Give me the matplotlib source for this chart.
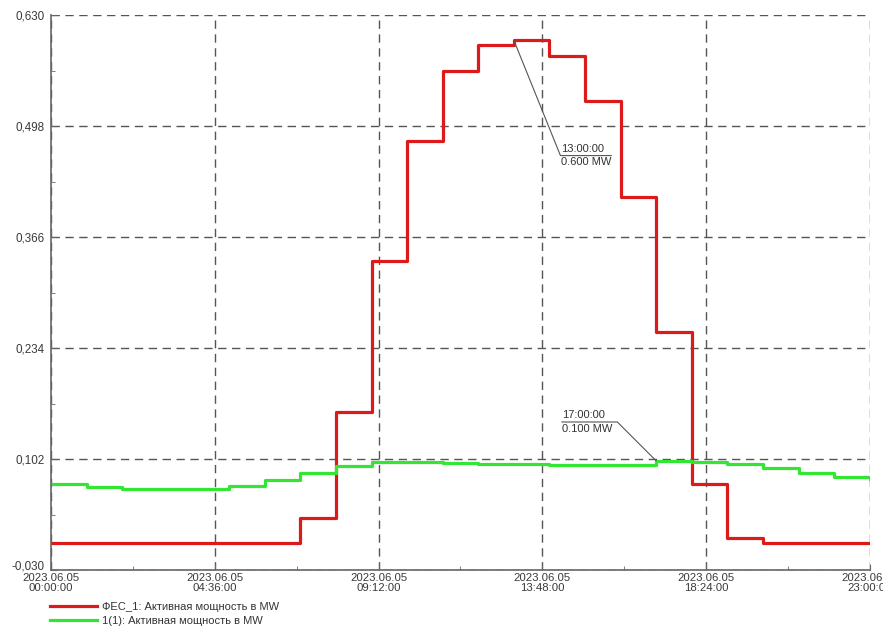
import matplotlib.pyplot as plt
from matplotlib.ticker import FixedLocator
from matplotlib.transforms import ScaledTranslation

plt.rcParams['font.family'] = ['Liberation Sans', 'DejaVu Sans']

# hourly values, 2023.06.05 00:00 .. 23:00
hours = list(range(24))
fes_power = [0.002, 0.002, 0.002, 0.002, 0.002, 0.002, 0.002, 0.032,
             0.158, 0.338, 0.480, 0.563, 0.594, 0.600, 0.581, 0.528,
             0.414, 0.253, 0.073, 0.008, 0.002, 0.002, 0.002, 0.002]
unit_power = [0.073, 0.069, 0.067, 0.067, 0.067, 0.070, 0.077, 0.085,
              0.094, 0.099, 0.099, 0.098, 0.096, 0.096, 0.095, 0.095,
              0.095, 0.100, 0.099, 0.096, 0.092, 0.085, 0.081, 0.079]

series_labels = ['ФЕС_1: Активная мощность в MW', '1(1): Активная мощность в MW']

x_ticks = [0, 4.6, 9.2, 13.8, 18.4, 23]
x_tick_labels = ['2023.06.05\n00:00:00', '2023.06.05\n04:36:00', '2023.06.05\n09:12:00',
                 '2023.06.05\n13:48:00', '2023.06.05\n18:24:00', '2023.06.05\n23:00:00']
y_ticks = [-0.030, 0.102, 0.234, 0.366, 0.498, 0.630]

fig = plt.figure(figsize=(8.83, 6.28), dpi=100)
ax = fig.add_axes([0.058, 0.092, 0.927, 0.884])

ax.plot(hours, fes_power, drawstyle='steps-post', color='#dd1a1a', lw=2.3,
        label=series_labels[0])
ax.plot(hours, unit_power, drawstyle='steps-post', color='#33e633', lw=2.3,
        label=series_labels[1])

ax.set_xlim(0, 23)
ax.set_ylim(-0.030, 0.630)
ax.set_xticks(x_ticks, x_tick_labels)
ax.set_yticks(y_ticks, [f'{v:.3f}'.replace('.', ',') for v in y_ticks])
ax.xaxis.set_minor_locator(FixedLocator([(a + b) / 2 for a, b in zip(x_ticks, x_ticks[1:])]))
ax.yaxis.set_minor_locator(FixedLocator([(a + b) / 2 for a, b in zip(y_ticks, y_ticks[1:])]))

ax.grid(True, which='major', ls=(0, (6, 4)), color='#555555', lw=1.0)
for side in ['top', 'right']:
    ax.spines[side].set_visible(False)
for side in ['left', 'bottom']:
    ax.spines[side].set_color('#666666')
    ax.spines[side].set_linewidth(1.2)

ax.tick_params(which='both', direction='in', colors='#666666', labelcolor='#3a3a3a',
               labelsize=8.4)
ax.tick_params(which='major', length=4)
ax.tick_params(which='minor', length=3)
ax.tick_params(axis='x', pad=2)
ax.tick_params(axis='y', pad=5)
ax.xaxis.set_tick_params(labelsize=8.2)
for lab in ax.get_xticklabels():
    lab.set_linespacing(1.05)

# lowest y label sits a little higher so it clears the date labels
low = ax.get_yticklabels()[0]
low.set_transform(low.get_transform() + ScaledTranslation(0, 4 / 72, fig.dpi_scale_trans))

# value markers
ax.annotate('13:00:00\n0.600 MW', xy=(13, fes_power[13]), xytext=(34, -83),
            textcoords='offset points', ha='left', va='center', fontsize=8,
            color='#333333', linespacing=1.45,
            arrowprops=dict(arrowstyle='-', color='#555555', lw=0.8, relpos=(1, 0.5),
                            shrinkA=0, shrinkB=0, patchA=None,
                            connectionstyle='angle,angleA=0,angleB=-68,rad=0'))
ax.annotate('17:00:00\n0.100 MW', xy=(17, unit_power[17]), xytext=(-68, 28),
            textcoords='offset points', ha='left', va='center', fontsize=8,
            color='#333333', linespacing=1.45,
            arrowprops=dict(arrowstyle='-', color='#555555', lw=0.8, relpos=(0, 0.5),
                            shrinkA=0, shrinkB=0, patchA=None,
                            connectionstyle='angle,angleA=0,angleB=135,rad=0'))

fig.legend(loc='center left', bbox_to_anchor=(0.0566, 0.023), frameon=False,
           fontsize=8, handlelength=4.2, handletextpad=0.45, labelspacing=0.35,
           borderpad=0, borderaxespad=0, labelcolor='#333333')

fig.savefig('out.png', dpi=100)
